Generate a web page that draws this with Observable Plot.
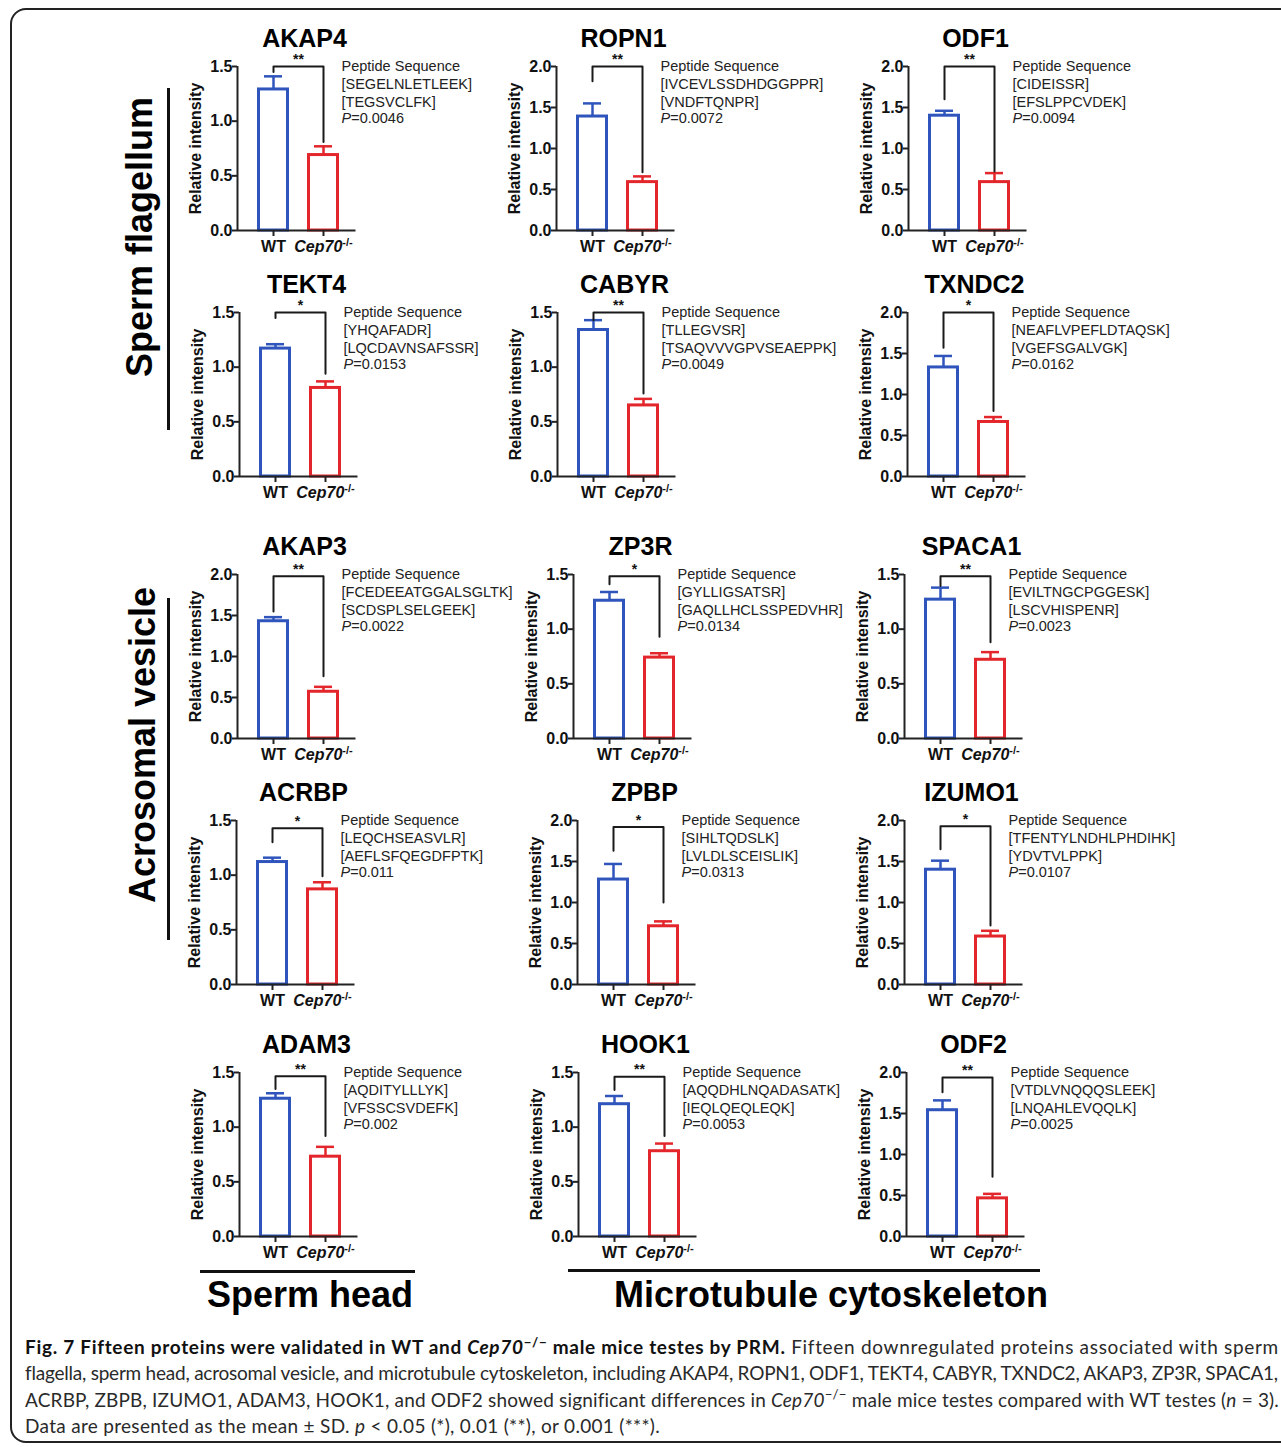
<!DOCTYPE html>
<html><head><meta charset="utf-8">
<script src="https://cdn.jsdelivr.net/npm/d3@7"></script>
<script src="https://cdn.jsdelivr.net/npm/@observablehq/plot@0.6"></script>
<style>
body{margin:0;background:#fff;}
#fig{position:relative;width:1281px;height:1447px;overflow:hidden;font-family:"Liberation Sans",Arial,sans-serif;background:#fff;}
.border{position:absolute;left:10px;top:8px;width:1300px;height:1431px;border:2px solid #222;border-radius:16px;}
.panel{position:absolute;}
.glabel{position:absolute;font-weight:bold;font-size:36px;white-space:nowrap;color:#000;transform:translate(-50%,-50%);}
.glabel.v{transform:translate(-50%,-50%) rotate(-90deg);}
.hline{position:absolute;background:#111;}
#caption{position:absolute;left:25px;top:1334px;width:1253px;font-family:Lato,"Open Sans",sans-serif;font-size:19px;color:#2a2a2a;}
#caption .ln{white-space:nowrap;height:26.3px;line-height:26.3px;overflow:visible;}
#caption .ln span.in{display:inline-block;white-space:nowrap;}
#caption b{color:#111;}
#caption sup{font-size:0.7em;vertical-align:0;position:relative;top:-0.55em;line-height:0;}
</style></head><body><div id="fig"><div class="border"></div></div>
<script>
// ---- data ----
const proteins = ["AKAP4","ROPN1","ODF1","TEKT4","CABYR","TXNDC2","AKAP3","ZP3R","SPACA1","ACRBP","ZPBP","IZUMO1","ADAM3","HOOK1","ODF2"];
const yMax = [1.5,2,2,1.5,1.5,2,2,1.5,1.5,1.5,2,2,1.5,1.5,2];
const wtMean = [1.29,1.39,1.40,1.17,1.34,1.33,1.43,1.26,1.27,1.12,1.28,1.40,1.26,1.21,1.54];
const wtSD = [0.12,0.16,0.06,0.04,0.09,0.14,0.05,0.08,0.11,0.04,0.19,0.11,0.05,0.075,0.12];
const koMean = [0.69,0.59,0.59,0.81,0.65,0.665,0.57,0.74,0.72,0.87,0.71,0.585,0.73,0.78,0.465];
const koSD = [0.08,0.07,0.11,0.06,0.06,0.06,0.06,0.04,0.07,0.065,0.06,0.07,0.09,0.07,0.055];
const bracketTop = [1.5,2.0,2.0,1.5,1.5,2.0,1.98,1.485,1.485,1.43,1.92,1.93,1.465,1.46,1.94];
const legWT = [1.45,1.82,1.6,1.45,1.43,1.57,1.55,1.41,1.395,1.30,1.63,1.65,1.35,1.34,1.76];
const legKO = [0.81,0.71,0.72,0.94,0.76,0.80,0.76,0.93,0.88,0.99,1.0,0.72,0.92,0.92,0.73];
const stars = ["**","**","**","*","**","*","**","*","**","*","*","*","**","**","**"];
const pValues = ["0.0046","0.0072","0.0094","0.0153","0.0049","0.0162","0.0022","0.0134","0.0023","0.011","0.0313","0.0107","0.002","0.0053","0.0025"];
const pepA = ["SEGELNLETLEEK","IVCEVLSSDHDGGPPR","CIDEISSR","YHQAFADR","TLLEGVSR","NEAFLVPEFLDTAQSK","FCEDEEATGGALSGLTK","GYLLIGSATSR","EVILTNGCPGGESK","LEQCHSEASVLR","SIHLTQDSLK","TFENTYLNDHLPHDIHK","AQDITYLLLYK","AQQDHLNQADASATK","VTDLVNQQQSLEEK"];
const pepB = ["TEGSVCLFK","VNDFTQNPR","EFSLPPCVDEK","LQCDAVNSAFSSR","TSAQVVVGPVSEAEPPK","VGEFSGALVGK","SCDSPLSELGEEK","GAQLLHCLSSPEDVHR","LSCVHISPENR","AEFLSFQEGDFPTK","LVLDLSCEISLIK","YDVTVLPPK","VFSSCSVDEFK","IEQLQEQLEQK","LNQAHLEVQQLK"];
const groups = ["WT","Cep70-/-"];
const groupColors = ["#2f55bd","#e3262b"];

// ---- layout ----
const colX = [[237,556,908],[239,557,907],[237,573,904],[236,577,904],[239,578,906]];
const rowBase = [230,476,738,984,1236];
const PH = 164, ML = 70, MR = 230, MT = 45, MB = 35, PW = 120;
const X0 = -0.72, X1 = X0 + 2.4;

const fig = document.getElementById("fig");
const NS = "http://www.w3.org/2000/svg";

function panel(k) {
  const ymax = yMax[k];
  const rows = [{g:0, mean: wtMean[k], sd: wtSD[k]}, {g:1, mean: koMean[k], sd: koSD[k]}];
  const bracket = [{g:0, v: legWT[k]}, {g:0, v: bracketTop[k]}, {g:1, v: bracketTop[k]}, {g:1, v: legKO[k]}];
  const ticks = d3.range(0, ymax + 1e-9, 0.5);
  const svg = Plot.plot({
    width: ML + PW + MR, height: MT + PH + MB,
    marginLeft: ML, marginRight: MR, marginTop: MT, marginBottom: MB,
    style: {background: "none", overflow: "visible", fontFamily: "'Liberation Sans', Arial, sans-serif", fontSize: "16px", fontWeight: "bold", color: "#111"},
    x: {domain: [X0, X1], axis: null},
    y: {domain: [0, ymax], axis: null},
    color: {type: "ordinal", domain: [0, 1], range: groupColors},
    marks: [
      Plot.rectY(rows, {x1: d => d.g - 0.29, x2: d => d.g + 0.29, y1: 0, y2: "mean", fill: "white", stroke: "g", strokeWidth: 3}),
      Plot.ruleX(rows, {x: "g", y1: "mean", y2: d => d.mean + d.sd, stroke: "g", strokeWidth: 2.5}),
      Plot.ruleY(rows, {y: d => d.mean + d.sd, x1: d => d.g - 0.18, x2: d => d.g + 0.18, stroke: "g", strokeWidth: 2.5}),
      Plot.line(bracket, {x: "g", y: "v", stroke: "#1a1a1a", strokeWidth: 2}),
      Plot.text([stars[k]], {x: 0.5, y: bracketTop[k], dy: -7, fontSize: 14, fill: "#111"}),
      Plot.ruleY([0], {x1: X0, x2: X1 - 0.03, stroke: "#222", strokeWidth: 2}),
      Plot.ruleX([X0], {y1: 0, y2: ymax, stroke: "#222", strokeWidth: 2}),
      Plot.axisY({ticks, tickFormat: d3.format(".1f"), tickSize: 5, tickPadding: 0, strokeWidth: 2, stroke: "#222", label: null, fill: "#111"}),
      Plot.axisX({ticks: [0, 1], tickFormat: i => groups[i], tickSize: 6, tickPadding: 4, strokeWidth: 2, stroke: "#222", label: null, fill: "#111"}),
      Plot.text(["Relative intensity"], {frameAnchor: "left", textAnchor: "middle", lineAnchor: "middle", rotate: -90, dx: -42, fontSize: 16, fontWeight: "bold", fill: "#111"}),
      Plot.text([proteins[k]], {frameAnchor: "top", lineAnchor: "middle", dx: 7, dy: -28, fontSize: 25, fontWeight: "bold", fill: "#000"}),
      Plot.text([`Peptide Sequence\n[${pepA[k]}]\n[${pepB[k]}]`], {frameAnchor: "top-left", textAnchor: "start", lineAnchor: "top", dx: 104, dy: -8, fontSize: 14.5, fontWeight: "normal", lineHeight: 1.24, fill: "#222"}),
      Plot.text(["P=" + pValues[k]], {frameAnchor: "top-left", textAnchor: "start", lineAnchor: "top", dx: 104, dy: -8 + 3 * 18, fontSize: 14.5, fontWeight: "normal", fill: "#222"})
    ]
  });
  svg.querySelectorAll("text").forEach(t => {
    const s = t.textContent;
    if (s === "Cep70-/-") {
      t.textContent = "";
      const a = document.createElementNS(NS, "tspan");
      a.setAttribute("font-style", "italic"); a.textContent = "Cep70";
      const b = document.createElementNS(NS, "tspan");
      b.setAttribute("font-size", "11"); b.setAttribute("dy", "-6"); b.textContent = "-/-";
      t.appendChild(a); t.appendChild(b);
    } else if (/^P=/.test(s) && t.childNodes.length === 1) {
      t.textContent = "";
      const a = document.createElementNS(NS, "tspan");
      a.setAttribute("font-style", "italic"); a.textContent = "P";
      const b = document.createElementNS(NS, "tspan");
      b.textContent = s.slice(1);
      t.appendChild(a); t.appendChild(b);
    }
  });
  return svg;
}

proteins.forEach((p, k) => {
  const r = Math.floor(k / 3), c = k % 3;
  const div = document.createElement("div");
  div.className = "panel";
  div.style.left = (colX[r][c] - ML) + "px";
  div.style.top = (rowBase[r] - PH - MT) + "px";
  div.style.width = (ML + PW + MR) + "px";
  div.appendChild(panel(k));
  fig.appendChild(div);
});

// group labels
const labels = [
  {t: "Sperm flagellum", x: 140, y: 237, v: true},
  {t: "Acrosomal vesicle", x: 143, y: 745, v: true},
  {t: "Sperm head", x: 310, y: 1295, v: false},
  {t: "Microtubule cytoskeleton", x: 831, y: 1295, v: false}
];
labels.forEach(l => {
  const d = document.createElement("div");
  d.className = "glabel" + (l.v ? " v" : "");
  d.style.left = l.x + "px"; d.style.top = l.y + "px";
  d.textContent = l.t;
  fig.appendChild(d);
});
const lines = [
  {x: 167, y: 88, w: 2.5, h: 342}, {x: 167, y: 598, w: 2.5, h: 342},
  {x: 200, y: 1270, w: 215, h: 2.5}, {x: 568, y: 1269, w: 472, h: 2.5}
];
lines.forEach(l => {
  const d = document.createElement("div");
  d.className = "hline";
  Object.assign(d.style, {left: l.x + "px", top: l.y + "px", width: l.w + "px", height: l.h + "px"});
  fig.appendChild(d);
});

// caption
const capLines = [
  {html: '<b>Fig. 7 Fifteen proteins were validated in WT and <i>Cep70</i><sup>−/−</sup> male mice testes by PRM.</b> Fifteen downregulated proteins associated with sperm', w: 1253},
  {html: 'flagella, sperm head, acrosomal vesicle, and microtubule cytoskeleton, including AKAP4, ROPN1, ODF1, TEKT4, CABYR, TXNDC2, AKAP3, ZP3R, SPACA1,', w: 1253},
  {html: 'ACRBP, ZBPB, IZUMO1, ADAM3, HOOK1, and ODF2 showed significant differences in <i>Cep70</i><sup>−/−</sup> male mice testes compared with WT testes (<i>n</i> = 3).', w: 1253},
  {html: 'Data are presented as the mean ± SD. <i>p</i> &lt; 0.05 (*), 0.01 (**), or 0.001 (***).', w: 635}
];
const cap = document.createElement("div");
cap.id = "caption";
fig.appendChild(cap);
capLines.forEach(l => {
  const ln = document.createElement("div");
  ln.className = "ln";
  const sp = document.createElement("span");
  sp.className = "in";
  sp.innerHTML = l.html;
  ln.appendChild(sp);
  cap.appendChild(ln);
  const natural = sp.getBoundingClientRect().width;
  const n = sp.textContent.length;
  sp.style.letterSpacing = ((l.w - natural) / n) + "px";
});
</script></body></html>
